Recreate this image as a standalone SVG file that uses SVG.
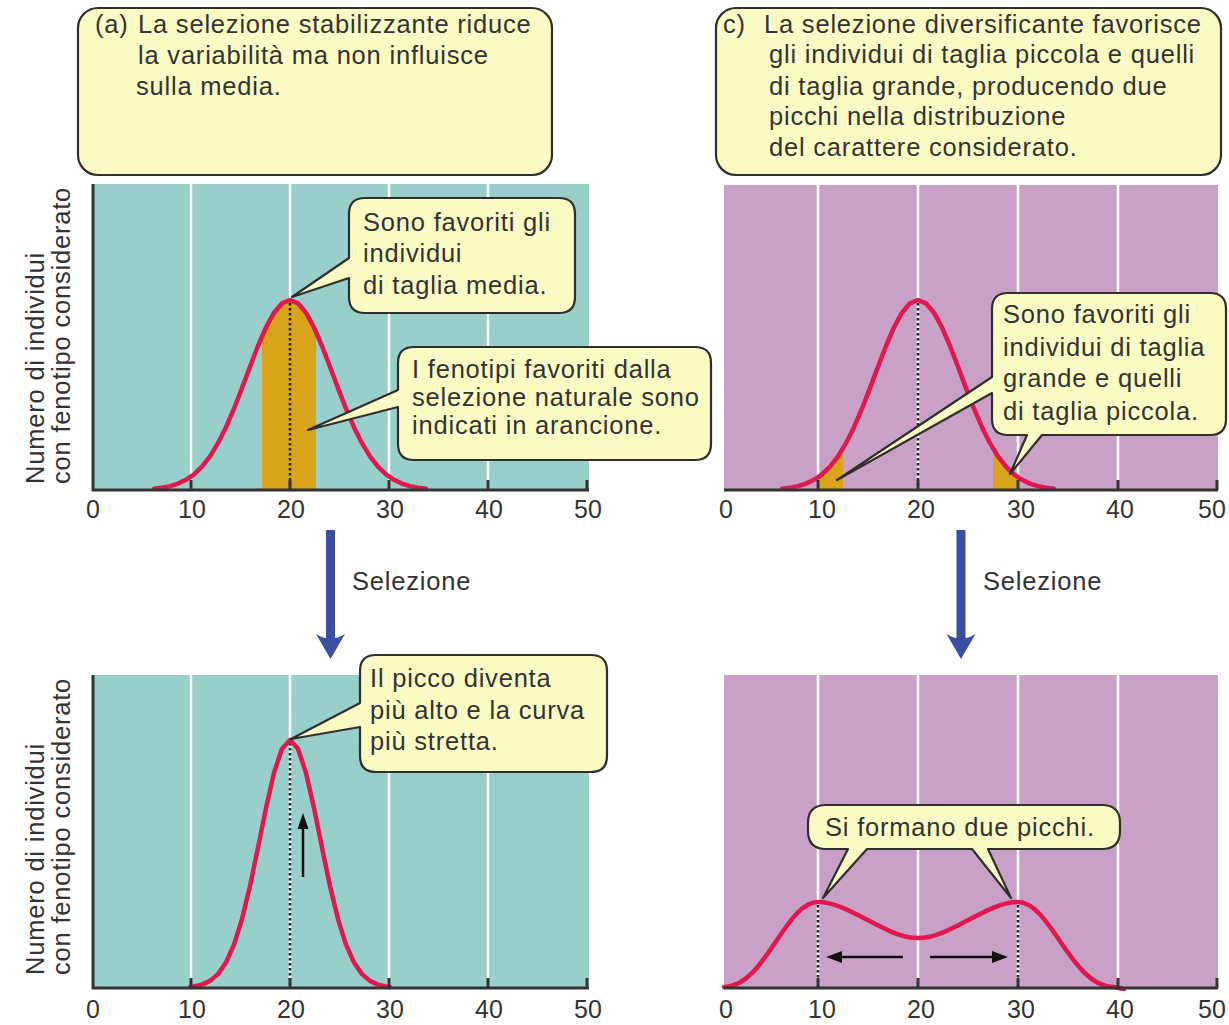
<svg xmlns="http://www.w3.org/2000/svg" width="1229" height="1025" viewBox="0 0 1229 1025">
<style>
.t{font-family:"Liberation Sans",Arial,sans-serif;font-size:25.5px;fill:#333;letter-spacing:0.8px}
.tk{font-family:"Liberation Sans",Arial,sans-serif;font-size:25px;fill:#333;text-anchor:middle}
.box{fill:#fdfbc4;stroke:#2f2f2f;stroke-width:2.2;stroke-linejoin:round}
.grid{stroke:#fff;stroke-width:2.5}
.axis{stroke:#333;stroke-width:3;fill:none}
.curve{fill:none;stroke:#e2174e;stroke-width:4.5;stroke-linejoin:round;stroke-linecap:round}
.dot{stroke:#222;stroke-width:2.5;stroke-dasharray:2.5 2.5;fill:none}
.or{fill:#d9a31b}
.teal{fill:#99cfca}
.purp{fill:#c9a1c7}
.blue{fill:#3a4f9f}
.blk{stroke:#111;stroke-width:2.5;fill:none}
</style>

<g id="title-a">
<rect class="box" x="78" y="8" width="474" height="167" rx="20"/>
<text class="t" x="95" y="33">(a)</text>
<text class="t" x="138" y="33">La selezione stabilizzante riduce</text>
<text class="t" x="138" y="64">la variabilità ma non influisce</text>
<text class="t" x="136" y="95">sulla media.</text>
</g>

<g id="title-c">
<rect class="box" x="716" y="8" width="505" height="167" rx="20"/>
<text class="t" x="723" y="33">c)</text>
<text class="t" x="764" y="33">La selezione diversificante favorisce</text>
<text class="t" x="769" y="63">gli individui di taglia piccola e quelli</text>
<text class="t" x="769" y="95">di taglia grande, producendo due</text>
<text class="t" x="769" y="125">picchi nella distribuzione</text>
<text class="t" x="769" y="156">del carattere considerato.</text>
</g>

<g id="plot-a-before">
<rect class="teal" x="93" y="184" width="496" height="306"/>
<line class="grid" x1="191" y1="184" x2="191" y2="490"/>
<line class="grid" x1="290" y1="184" x2="290" y2="490"/>
<line class="grid" x1="389" y1="184" x2="389" y2="490"/>
<line class="grid" x1="488" y1="184" x2="488" y2="490"/>
<polygon class="or" points="262,490 262,336 266,327.4 274,312.7 282,303.3 290,300 298,303.3 306,312.7 314,327.4 316,331.8 316,490"/>
<line class="dot" x1="290" y1="303" x2="290" y2="489"/>
<polyline class="curve" points="154,488.7 162,487.7 170,486.1 178,483.6 186,479.8 194,474.3 202,466.6 210,456.3 218,443.2 226,427.2 234,408.6 242,388.1 250,366.7 258,346 266,327.4 274,312.7 282,303.3 290,300 298,303.3 306,312.7 314,327.4 322,346 330,366.7 338,388.1 346,408.6 354,427.2 362,443.2 370,456.3 378,466.6 386,474.3 394,479.8 402,483.6 410,486.1 418,487.7 426,488.7"/>
<path class="axis" d="M93,184 V490 H589 M191,490 V480 M290,490 V480 M389,490 V480 M488,490 V480 M587,490 V480"/>
<text class="tk" x="93" y="518">0</text>
<text class="tk" x="192" y="518">10</text>
<text class="tk" x="291" y="518">20</text>
<text class="tk" x="390" y="518">30</text>
<text class="tk" x="489" y="518">40</text>
<text class="tk" x="588" y="518">50</text>
<text class="t" transform="translate(44,484) rotate(-90)">Numero di individui</text>
<text class="t" transform="translate(70,484) rotate(-90)">con fenotipo considerato</text>
</g>

<g id="callout-media">
<path class="box" d="M365,198 H559 Q575,198 575,214 V297 Q575,313 559,313 H365 Q349,313 349,297 V278 L292,297 L349,258 V214 Q349,198 365,198 Z"/>
<text class="t" x="363" y="231">Sono favoriti gli</text>
<text class="t" x="363" y="262">individui</text>
<text class="t" x="363" y="294">di taglia media.</text>
</g>

<g id="callout-arancione">
<path class="box" d="M414,347 H695 Q711,347 711,363 V444 Q711,460 695,460 H414 Q398,460 398,444 V407 L308,430 L398,390 V363 Q398,347 414,347 Z"/>
<text class="t" x="412" y="378">I fenotipi favoriti dalla</text>
<text class="t" x="412" y="406">selezione naturale sono</text>
<text class="t" x="412" y="434">indicati in arancione.</text>
</g>

<g id="plot-c-before">
<rect class="purp" x="724" y="185" width="494" height="305"/>
<line class="grid" x1="818" y1="185" x2="818" y2="490"/>
<line class="grid" x1="918" y1="185" x2="918" y2="490"/>
<line class="grid" x1="1018" y1="185" x2="1018" y2="490"/>
<line class="grid" x1="1118" y1="185" x2="1118" y2="490"/>
<polygon class="or" points="818,490 818,477.3 822,474.3 830,466.6 838,456.3 843,448.5 843,490"/>
<polygon class="or" points="993,490 993,448.5 998,456.3 1006,466.6 1014,474.3 1018,477.3 1018,490"/>
<line class="dot" x1="918" y1="303" x2="918" y2="489"/>
<polyline class="curve" points="782,488.7 790,487.7 798,486.1 806,483.6 814,479.8 822,474.3 830,466.6 838,456.3 846,443.2 854,427.2 862,408.6 870,388.1 878,366.7 886,346 894,327.4 902,312.7 910,303.3 918,300 926,303.3 934,312.7 942,327.4 950,346 958,366.7 966,388.1 974,408.6 982,427.2 990,443.2 998,456.3 1006,466.6 1014,474.3 1022,479.8 1030,483.6 1038,486.1 1046,487.7 1054,488.7"/>
<path class="axis" d="M724,490 H1218 M818,490 V480 M918,490 V480 M1018,490 V480 M1118,490 V480 M1217,490 V480"/>
<text class="tk" x="726" y="518">0</text>
<text class="tk" x="822" y="518">10</text>
<text class="tk" x="921" y="518">20</text>
<text class="tk" x="1021" y="518">30</text>
<text class="tk" x="1120" y="518">40</text>
<text class="tk" x="1212" y="518">50</text>
</g>

<g id="callout-estremi">
<path class="box" d="M1008,293 H1210 Q1226,293 1226,309 V419 Q1226,435 1210,435 H1042 L1010,474 L1027,435 H1008 Q992,435 992,419 V393 L837,480 L992,377 V309 Q992,293 1008,293 Z"/>
<text class="t" x="1003" y="323">Sono favoriti gli</text>
<text class="t" x="1003" y="356">individui di taglia</text>
<text class="t" x="1003" y="387">grande e quelli</text>
<text class="t" x="1003" y="420">di taglia piccola.</text>
</g>

<g id="plot-a-after">
<rect class="teal" x="93" y="675" width="496" height="313"/>
<line class="grid" x1="191" y1="675" x2="191" y2="988"/>
<line class="grid" x1="290" y1="675" x2="290" y2="988"/>
<line class="grid" x1="389" y1="675" x2="389" y2="988"/>
<line class="grid" x1="488" y1="675" x2="488" y2="988"/>
<line class="dot" x1="290" y1="743" x2="290" y2="987"/>
<polyline class="curve" points="190,987 194,986.5 202,984.6 210,980.9 218,974.1 226,962.5 234,944.6 242,919.1 250,886 258,847.6 266,807.9 274,772.9 282,748.7 290,740 298,748.7 306,772.9 314,807.9 322,847.6 330,886 338,919.1 346,944.6 354,962.5 362,974.1 370,980.9 378,984.6 386,986.5 390,987"/>
<path class="axis" d="M93,675 V988 H589 M191,988 V978 M290,988 V978 M389,988 V978 M488,988 V978 M587,988 V978"/>
<text class="tk" x="93" y="1018">0</text>
<text class="tk" x="192" y="1018">10</text>
<text class="tk" x="291" y="1018">20</text>
<text class="tk" x="390" y="1018">30</text>
<text class="tk" x="489" y="1018">40</text>
<text class="tk" x="588" y="1018">50</text>
<text class="t" transform="translate(44,975) rotate(-90)">Numero di individui</text>
<text class="t" transform="translate(70,975) rotate(-90)">con fenotipo considerato</text>
</g>

<g id="callout-picco">
<path class="box" d="M376,655 H591 Q607,655 607,671 V756 Q607,772 591,772 H376 Q360,772 360,756 V727 L291,739 L360,703 V671 Q360,655 376,655 Z"/>
<text class="t" x="370" y="687">Il picco diventa</text>
<text class="t" x="370" y="719">più alto e la curva</text>
<text class="t" x="370" y="750">più stretta.</text>
</g>

<g id="plot-c-after">
<rect class="purp" x="724" y="675" width="494" height="313"/>
<line class="grid" x1="818" y1="675" x2="818" y2="988"/>
<line class="grid" x1="918" y1="675" x2="918" y2="988"/>
<line class="grid" x1="1018" y1="675" x2="1018" y2="988"/>
<line class="grid" x1="1118" y1="675" x2="1118" y2="988"/>
<line class="dot" x1="818" y1="905" x2="818" y2="987"/>
<line class="dot" x1="1018" y1="905" x2="1018" y2="987"/>
<path class="curve" d="M724,987 C765,987 785,902 818,902 C850,902 885,938 918,938 C951,938 986,902 1018,902 C1051,902 1071,987 1114,987 L1124,989"/>
<path class="axis" d="M724,988 H1218 M818,988 V978 M918,988 V978 M1018,988 V978 M1118,988 V978 M1217,988 V978"/>
<text class="tk" x="726" y="1018">0</text>
<text class="tk" x="822" y="1018">10</text>
<text class="tk" x="921" y="1018">20</text>
<text class="tk" x="1021" y="1018">30</text>
<text class="tk" x="1120" y="1018">40</text>
<text class="tk" x="1212" y="1018">50</text>
</g>

<g id="callout-picchi">
<path class="box" d="M826,805 H1102 Q1120,805 1120,823 V831 Q1120,849 1102,849 H988 L1011,898 L972,849 H867 L823,898 L848,849 H826 Q808,849 808,831 V823 Q808,805 826,805 Z"/>
<text class="t" x="825" y="836">Si formano due picchi.</text>
</g>

<g id="connectors">
<rect class="blue" x="326" y="530" width="9" height="110"/>
<path class="blue" d="M316,634 Q330.5,643 345,634 L330.5,659 Z"/>
<text class="t" x="352" y="590">Selezione</text>
<rect class="blue" x="956.5" y="530" width="9" height="110"/>
<path class="blue" d="M946.5,634 Q961,643 975.5,634 L961,659 Z"/>
<text class="t" x="983" y="590">Selezione</text>
<line class="blk" x1="303" y1="877" x2="303" y2="826"/>
<path d="M303,813 L297.5,829 L308.5,829 Z" fill="#111"/>
<line class="blk" x1="903" y1="957" x2="838" y2="957"/>
<path d="M826,957 L842,951 L842,963 Z" fill="#111"/>
<line class="blk" x1="930" y1="957" x2="996" y2="957"/>
<path d="M1008,957 L992,951 L992,963 Z" fill="#111"/>
</g>
</svg>
